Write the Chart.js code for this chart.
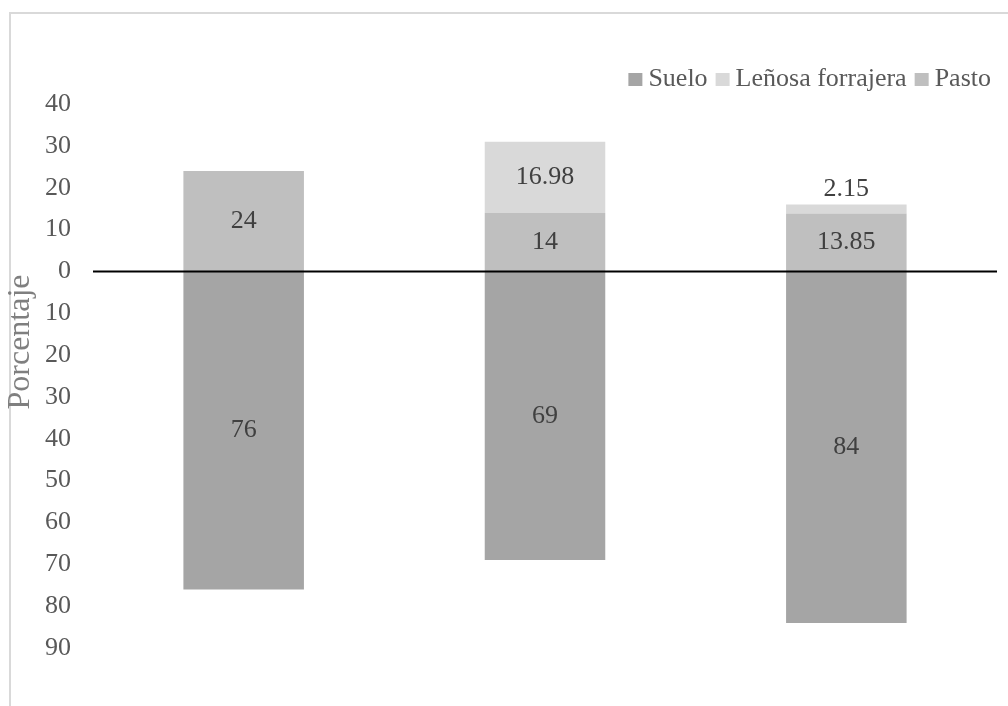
<!DOCTYPE html>
<html>
<head>
<meta charset="utf-8">
<script src="https://cdn.jsdelivr.net/npm/chart.js@4.4.0/dist/chart.umd.min.js"></script>
<style>
  html, body { margin: 0; padding: 0; background: #fff; }
  #wrap { width: 1008px; height: 706px; }
</style>
</head>
<body>
<div id="wrap"><canvas id="chart" width="1008" height="706"></canvas></div>
<script>
// values (Suelo drawn below zero)
const categories = ['1', '2', '3'];
const suelo = [-76, -69, -84];
const pasto = [24, 14, 13.85];
const lenosa = [0, 16.98, 2.15];
const legendOrder = ['Suelo', 'Leñosa forrajera', 'Pasto'];
const yMin = -90;
const yMax = 40;

const FONT = '"Liberation Serif", "Times New Roman", serif';

// light frame around the chart (only top and left show in the picture)
const frame = {
    id: 'frame',
    beforeDraw(chart) {
        const ctx = chart.ctx;
        ctx.save();
        ctx.strokeStyle = '#d9d9d9';
        ctx.lineWidth = 2;
        ctx.beginPath();
        ctx.moveTo(10, chart.height);
        ctx.lineTo(10, 13);
        ctx.lineTo(chart.width, 13);
        ctx.stroke();
        ctx.restore();
    }
};

// zero line over the bars, value labels, axis title and a compact legend
const overlay = {
    id: 'overlay',
    afterDatasetsDraw(chart) {
        const ctx = chart.ctx;
        const area = chart.chartArea;
        const y0 = chart.scales.y.getPixelForValue(0);
        ctx.save();

        ctx.strokeStyle = '#000';
        ctx.lineWidth = 2;
        ctx.beginPath();
        ctx.moveTo(area.left, y0);
        ctx.lineTo(area.right, y0);
        ctx.stroke();

        ctx.font = '26px ' + FONT;
        ctx.fillStyle = '#404040';
        ctx.textAlign = 'center';
        ctx.textBaseline = 'middle';
        chart.data.datasets.forEach((ds, i) => {
            const meta = chart.getDatasetMeta(i);
            meta.data.forEach((bar, j) => {
                const v = ds.data[j];
                if (!v) return;
                const p = bar.getProps(['x', 'y', 'base'], true);
                const h = Math.abs(p.base - p.y);
                const ty = h < 28 ? Math.min(p.y, p.base) - 15 : (p.y + p.base) / 2;
                ctx.fillText(String(Math.abs(v)), p.x, ty);
            });
        });

        // legend, right aligned
        const items = legendOrder.map(name => chart.data.datasets.find(d => d.label === name));
        ctx.font = '26px ' + FONT;
        ctx.textAlign = 'left';
        ctx.textBaseline = 'alphabetic';
        const widths = items.map(d => ctx.measureText(d.label).width);
        const total = widths.reduce((s, w) => s + 14 + 6 + w, 0) + 8 * (items.length - 1);
        let x = 991 - total;
        items.forEach((d, k) => {
            ctx.fillStyle = d.backgroundColor;
            ctx.fillRect(x, 73, 14, 13);
            ctx.fillStyle = '#595959';
            ctx.fillText(d.label, x + 20, 86);
            x += 20 + widths[k] + 8;
        });

        ctx.translate(21, 342);
        ctx.rotate(-Math.PI / 2);
        ctx.font = '32px ' + FONT;
        ctx.fillStyle = '#7f7f7f';
        ctx.textAlign = 'center';
        ctx.textBaseline = 'middle';
        ctx.fillText('Porcentaje', 0, 0);
        ctx.restore();
    }
};

new Chart(document.getElementById('chart'), {
    type: 'bar',
    data: {
        labels: categories,
        datasets: [
            { label: 'Suelo', data: suelo, backgroundColor: '#a5a5a5' },
            { label: 'Pasto', data: pasto, backgroundColor: '#bfbfbf' },
            { label: 'Leñosa forrajera', data: lenosa, backgroundColor: '#d9d9d9' }
        ]
    },
    options: {
        responsive: false,
        animation: false,
        devicePixelRatio: 1,
        datasets: {
            bar: { barPercentage: 0.4, categoryPercentage: 1, borderWidth: 0 }
        },
        layout: { padding: { left: 0, right: 11, top: 104, bottom: 58 } },
        scales: {
            x: { stacked: true, display: false },
            y: {
                stacked: true,
                min: yMin,
                max: yMax,
                afterFit(scale) {
                    scale.width = 93;
                    scale.paddingTop = 0;
                    scale.paddingBottom = 0;
                },
                grid: { display: false, drawTicks: false },
                border: { display: false },
                ticks: {
                    stepSize: 10,
                    padding: 22,
                    color: '#595959',
                    font: { family: FONT, size: 26 },
                    callback: v => Math.abs(v)
                }
            }
        },
        plugins: {
            tooltip: { enabled: false },
            legend: { display: false }
        }
    },
    plugins: [frame, overlay]
});
</script>
</body>
</html>
